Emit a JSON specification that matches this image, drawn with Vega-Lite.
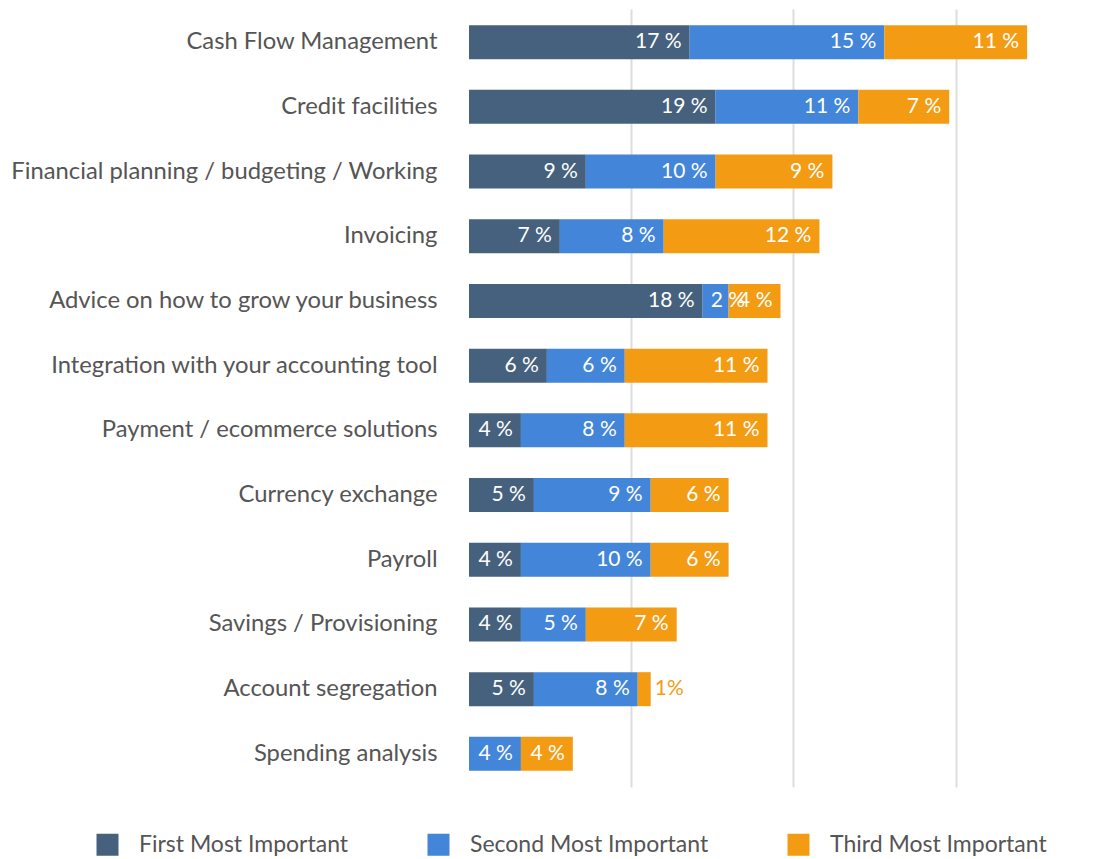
{
  "$schema": "https://vega.github.io/schema/vega-lite/v6.json",
  "width": 623,
  "height": 778,
  "autosize": {"type": "none"},
  "padding": {"left": 469, "top": 9, "right": 21, "bottom": 72},
  "background": "white",
  "config": {"view": {"stroke": null}, "font": "Lato"},
  "data": {"values": [
    {"category": "Cash Flow Management", "series": "First Most Important", "order": 1, "value": 17},
    {"category": "Cash Flow Management", "series": "Second Most Important", "order": 2, "value": 15},
    {"category": "Cash Flow Management", "series": "Third Most Important", "order": 3, "value": 11},
    {"category": "Credit facilities", "series": "First Most Important", "order": 1, "value": 19},
    {"category": "Credit facilities", "series": "Second Most Important", "order": 2, "value": 11},
    {"category": "Credit facilities", "series": "Third Most Important", "order": 3, "value": 7},
    {"category": "Financial planning / budgeting / Working", "series": "First Most Important", "order": 1, "value": 9},
    {"category": "Financial planning / budgeting / Working", "series": "Second Most Important", "order": 2, "value": 10},
    {"category": "Financial planning / budgeting / Working", "series": "Third Most Important", "order": 3, "value": 9},
    {"category": "Invoicing", "series": "First Most Important", "order": 1, "value": 7},
    {"category": "Invoicing", "series": "Second Most Important", "order": 2, "value": 8},
    {"category": "Invoicing", "series": "Third Most Important", "order": 3, "value": 12},
    {"category": "Advice on how to grow your business", "series": "First Most Important", "order": 1, "value": 18},
    {"category": "Advice on how to grow your business", "series": "Second Most Important", "order": 2, "value": 2},
    {"category": "Advice on how to grow your business", "series": "Third Most Important", "order": 3, "value": 4},
    {"category": "Integration with your accounting tool", "series": "First Most Important", "order": 1, "value": 6},
    {"category": "Integration with your accounting tool", "series": "Second Most Important", "order": 2, "value": 6},
    {"category": "Integration with your accounting tool", "series": "Third Most Important", "order": 3, "value": 11},
    {"category": "Payment / ecommerce solutions", "series": "First Most Important", "order": 1, "value": 4},
    {"category": "Payment / ecommerce solutions", "series": "Second Most Important", "order": 2, "value": 8},
    {"category": "Payment / ecommerce solutions", "series": "Third Most Important", "order": 3, "value": 11},
    {"category": "Currency exchange", "series": "First Most Important", "order": 1, "value": 5},
    {"category": "Currency exchange", "series": "Second Most Important", "order": 2, "value": 9},
    {"category": "Currency exchange", "series": "Third Most Important", "order": 3, "value": 6},
    {"category": "Payroll", "series": "First Most Important", "order": 1, "value": 4},
    {"category": "Payroll", "series": "Second Most Important", "order": 2, "value": 10},
    {"category": "Payroll", "series": "Third Most Important", "order": 3, "value": 6},
    {"category": "Savings / Provisioning", "series": "First Most Important", "order": 1, "value": 4},
    {"category": "Savings / Provisioning", "series": "Second Most Important", "order": 2, "value": 5},
    {"category": "Savings / Provisioning", "series": "Third Most Important", "order": 3, "value": 7},
    {"category": "Account segregation", "series": "First Most Important", "order": 1, "value": 5},
    {"category": "Account segregation", "series": "Second Most Important", "order": 2, "value": 8},
    {"category": "Account segregation", "series": "Third Most Important", "order": 3, "value": 1},
    {"category": "Spending analysis", "series": "First Most Important", "order": 1, "value": 0},
    {"category": "Spending analysis", "series": "Second Most Important", "order": 2, "value": 4},
    {"category": "Spending analysis", "series": "Third Most Important", "order": 3, "value": 4}
  ]},
  "transform": [
    {"stack": "value", "groupby": ["category"], "sort": [{"field": "order"}], "as": ["x0", "x1"]},
    {"calculate": "datum.value + ' %'", "as": "label"}
  ],
  "encoding": {
    "y": {
      "field": "category", "type": "nominal",
      "sort": ["Cash Flow Management", "Credit facilities", "Financial planning / budgeting / Working", "Invoicing", "Advice on how to grow your business", "Integration with your accounting tool", "Payment / ecommerce solutions", "Currency exchange", "Payroll", "Savings / Provisioning", "Account segregation", "Spending analysis"],
      "scale": {"paddingInner": 0.475, "paddingOuter": 0.25},
      "axis": {"title": null, "domain": false, "ticks": false, "labelPadding": 32, "labelFontSize": 23.8, "labelColor": "#555555", "labelLimit": 470}
    }
  },
  "layer": [
    {
      "mark": {"type": "bar"},
      "encoding": {
        "x": {"field": "x0", "type": "quantitative", "scale": {"domain": [0, 48], "nice": false},
          "axis": {"title": null, "labels": false, "ticks": false, "domain": false, "values": [12.5, 25, 37.5], "gridColor": "#dddddd", "gridWidth": 2}},
        "x2": {"field": "x1"},
        "color": {
          "field": "series", "type": "nominal",
          "scale": {"domain": ["First Most Important", "Second Most Important", "Third Most Important"], "range": ["#46617e", "#4285d9", "#f39c13"]},
          "legend": {"title": null, "orient": "none", "legendX": -373, "legendY": 824, "direction": "horizontal", "columns": 3, "columnPadding": 78, "symbolType": "square", "symbolSize": 484, "symbolStrokeWidth": 0, "symbolOpacity": 1, "labelFontSize": 23, "labelColor": "#555555", "labelOffset": 20, "padding": 0, "labelLimit": 400}
        }
      }
    },
    {
      "transform": [{"filter": "datum.value >= 3"}],
      "mark": {"type": "text", "align": "right", "baseline": "middle", "dx": -8, "fontSize": 21, "color": "white"},
      "encoding": {"x": {"field": "x1", "type": "quantitative"}, "text": {"field": "label"}}
    },
    {
      "transform": [{"filter": "datum.value == 2"}],
      "mark": {"type": "text", "align": "left", "baseline": "middle", "dx": 8, "fontSize": 21, "color": "white"},
      "encoding": {"x": {"field": "x0", "type": "quantitative"}, "text": {"field": "label"}}
    },
    {
      "transform": [{"filter": "datum.value == 1"}, {"calculate": "datum.value + '%'", "as": "label2"}],
      "mark": {"type": "text", "align": "left", "baseline": "middle", "dx": 4, "fontSize": 21, "color": "#f39c13"},
      "encoding": {"x": {"field": "x1", "type": "quantitative"}, "text": {"field": "label2"}}
    }
  ]
}
